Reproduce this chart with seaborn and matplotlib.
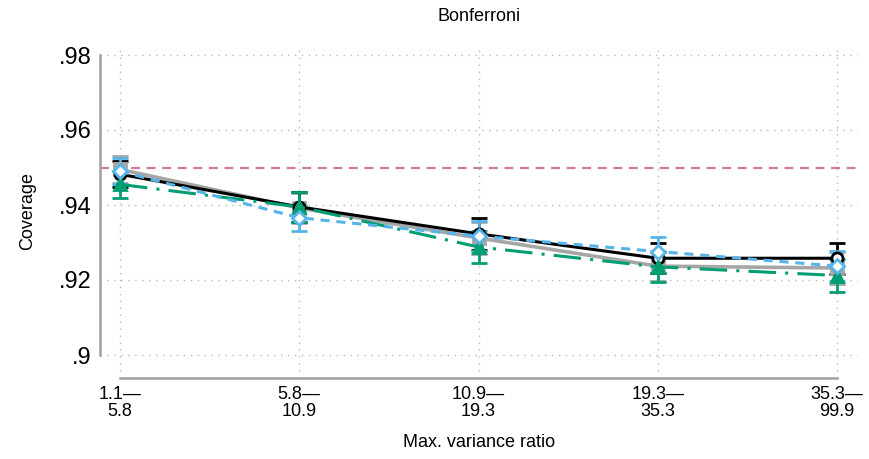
import numpy as np
import pandas as pd
import seaborn as sns
import matplotlib
matplotlib.use("Agg")
import matplotlib.pyplot as plt

# Categories of the maximum variance ratio
bins = ["1.1\u2014\n5.8", "5.8\u2014\n10.9", "10.9\u2014\n19.3", "19.3\u2014\n35.3", "35.3\u2014\n99.9"]
positions = [1, 2, 3, 4, 5]

# Coverage estimates per method
cov_black = [0.9482, 0.9395, 0.9323, 0.9258, 0.9258]
cov_gray = [0.9495, 0.9392, 0.9312, 0.9237, 0.9232]
cov_green = [0.9455, 0.9395, 0.9288, 0.9235, 0.9212]
cov_blue = [0.9490, 0.9366, 0.9317, 0.9276, 0.9237]

# Half-widths of the confidence intervals
err_black = [0.0035, 0.0040, 0.0042, 0.0040, 0.0042]
err_gray = [0.0035, 0.0040, 0.0042, 0.0040, 0.0042]
err_green = [0.0035, 0.0040, 0.0042, 0.0040, 0.0045]
err_blue = [0.0035, 0.0035, 0.0040, 0.0040, 0.0040]

nominal = 0.95
yticks = [0.90, 0.92, 0.94, 0.96, 0.98]
ytick_labels = [".9", ".92", ".94", ".96", ".98"]

sns.set_theme(style="white")
plt.rcParams["font.family"] = ["Liberation Sans", "DejaVu Sans"]
plt.rcParams["text.color"] = "black"
plt.rcParams["axes.labelcolor"] = "black"
plt.rcParams["xtick.color"] = "black"
plt.rcParams["ytick.color"] = "black"

fig = plt.figure(figsize=(8.69, 4.59), dpi=100)
ax = fig.add_axes([100 / 869, 1 - 378 / 459, 758 / 869, 333 / 459])

series = [
    ("gray", cov_gray, err_gray, "#a6a6a6", "s", "-", "#a6a6a6", 2.6),
    ("black", cov_black, err_black, "black", "o", "-", "white", 2.2),
    ("green", cov_green, err_green, "#009E73", "^", (0, (9, 3, 1, 3)), "#009E73", 2.2),
    ("blue", cov_blue, err_blue, "#56B4E9", "D", (0, (3, 2.2)), "white", 2.2),
]

for name, cov, err, col, mk, ls, mfc, lw in series:
    df = pd.DataFrame({"pos": positions, "cov": cov})
    ax.errorbar(positions, cov, yerr=err, fmt="none", ecolor=col, elinewidth=2.0,
                capsize=6, capthick=2.0, zorder=3)
    sns.lineplot(data=df, x="pos", y="cov", ax=ax, color=col, linewidth=lw,
                 linestyle=ls, marker=mk, markersize=8 if mk != "D" else 7,
                 markerfacecolor=mfc, markeredgecolor=col, markeredgewidth=2.0,
                 zorder=4)

ax.axhline(nominal, color="#CC79A7", linestyle=(0, (4, 3)), linewidth=1.6, zorder=2)

ax.set_xlim(1 - 20 / 179.25, 5 + 21 / 179.25)
ax.set_ylim(0.90 - 23 / 3750, 0.90 + 333 / 3750 - 23 / 3750)

ax.set_xticks(positions)
ax.set_xticklabels(bins, fontsize=13, linespacing=1.0)
ax.set_yticks(yticks)
ax.set_yticklabels(ytick_labels, fontsize=17)
ax.tick_params(axis="x", length=0, pad=6)
ax.tick_params(axis="y", length=0, pad=6)

ax.grid(True, color="#b8b8b8", linestyle=(0, (1, 4)), linewidth=1.0)
ax.set_axisbelow(True)

for s in ["top", "right"]:
    ax.spines[s].set_visible(False)
ax.spines["left"].set_color("#a0a0a0")
ax.spines["left"].set_linewidth(1.8)
ax.spines["left"].set_bounds(0.90, 0.98)
ax.spines["bottom"].set_color("#a0a0a0")
ax.spines["bottom"].set_linewidth(1.8)
ax.spines["bottom"].set_bounds(1, 5)

ax.set_xlabel("Max. variance ratio", fontsize=13, labelpad=10)
ax.set_ylabel("Coverage", fontsize=13, labelpad=16)
ax.set_title("Bonferroni", fontsize=13, pad=17)

fig.savefig("out.png", dpi=100)
